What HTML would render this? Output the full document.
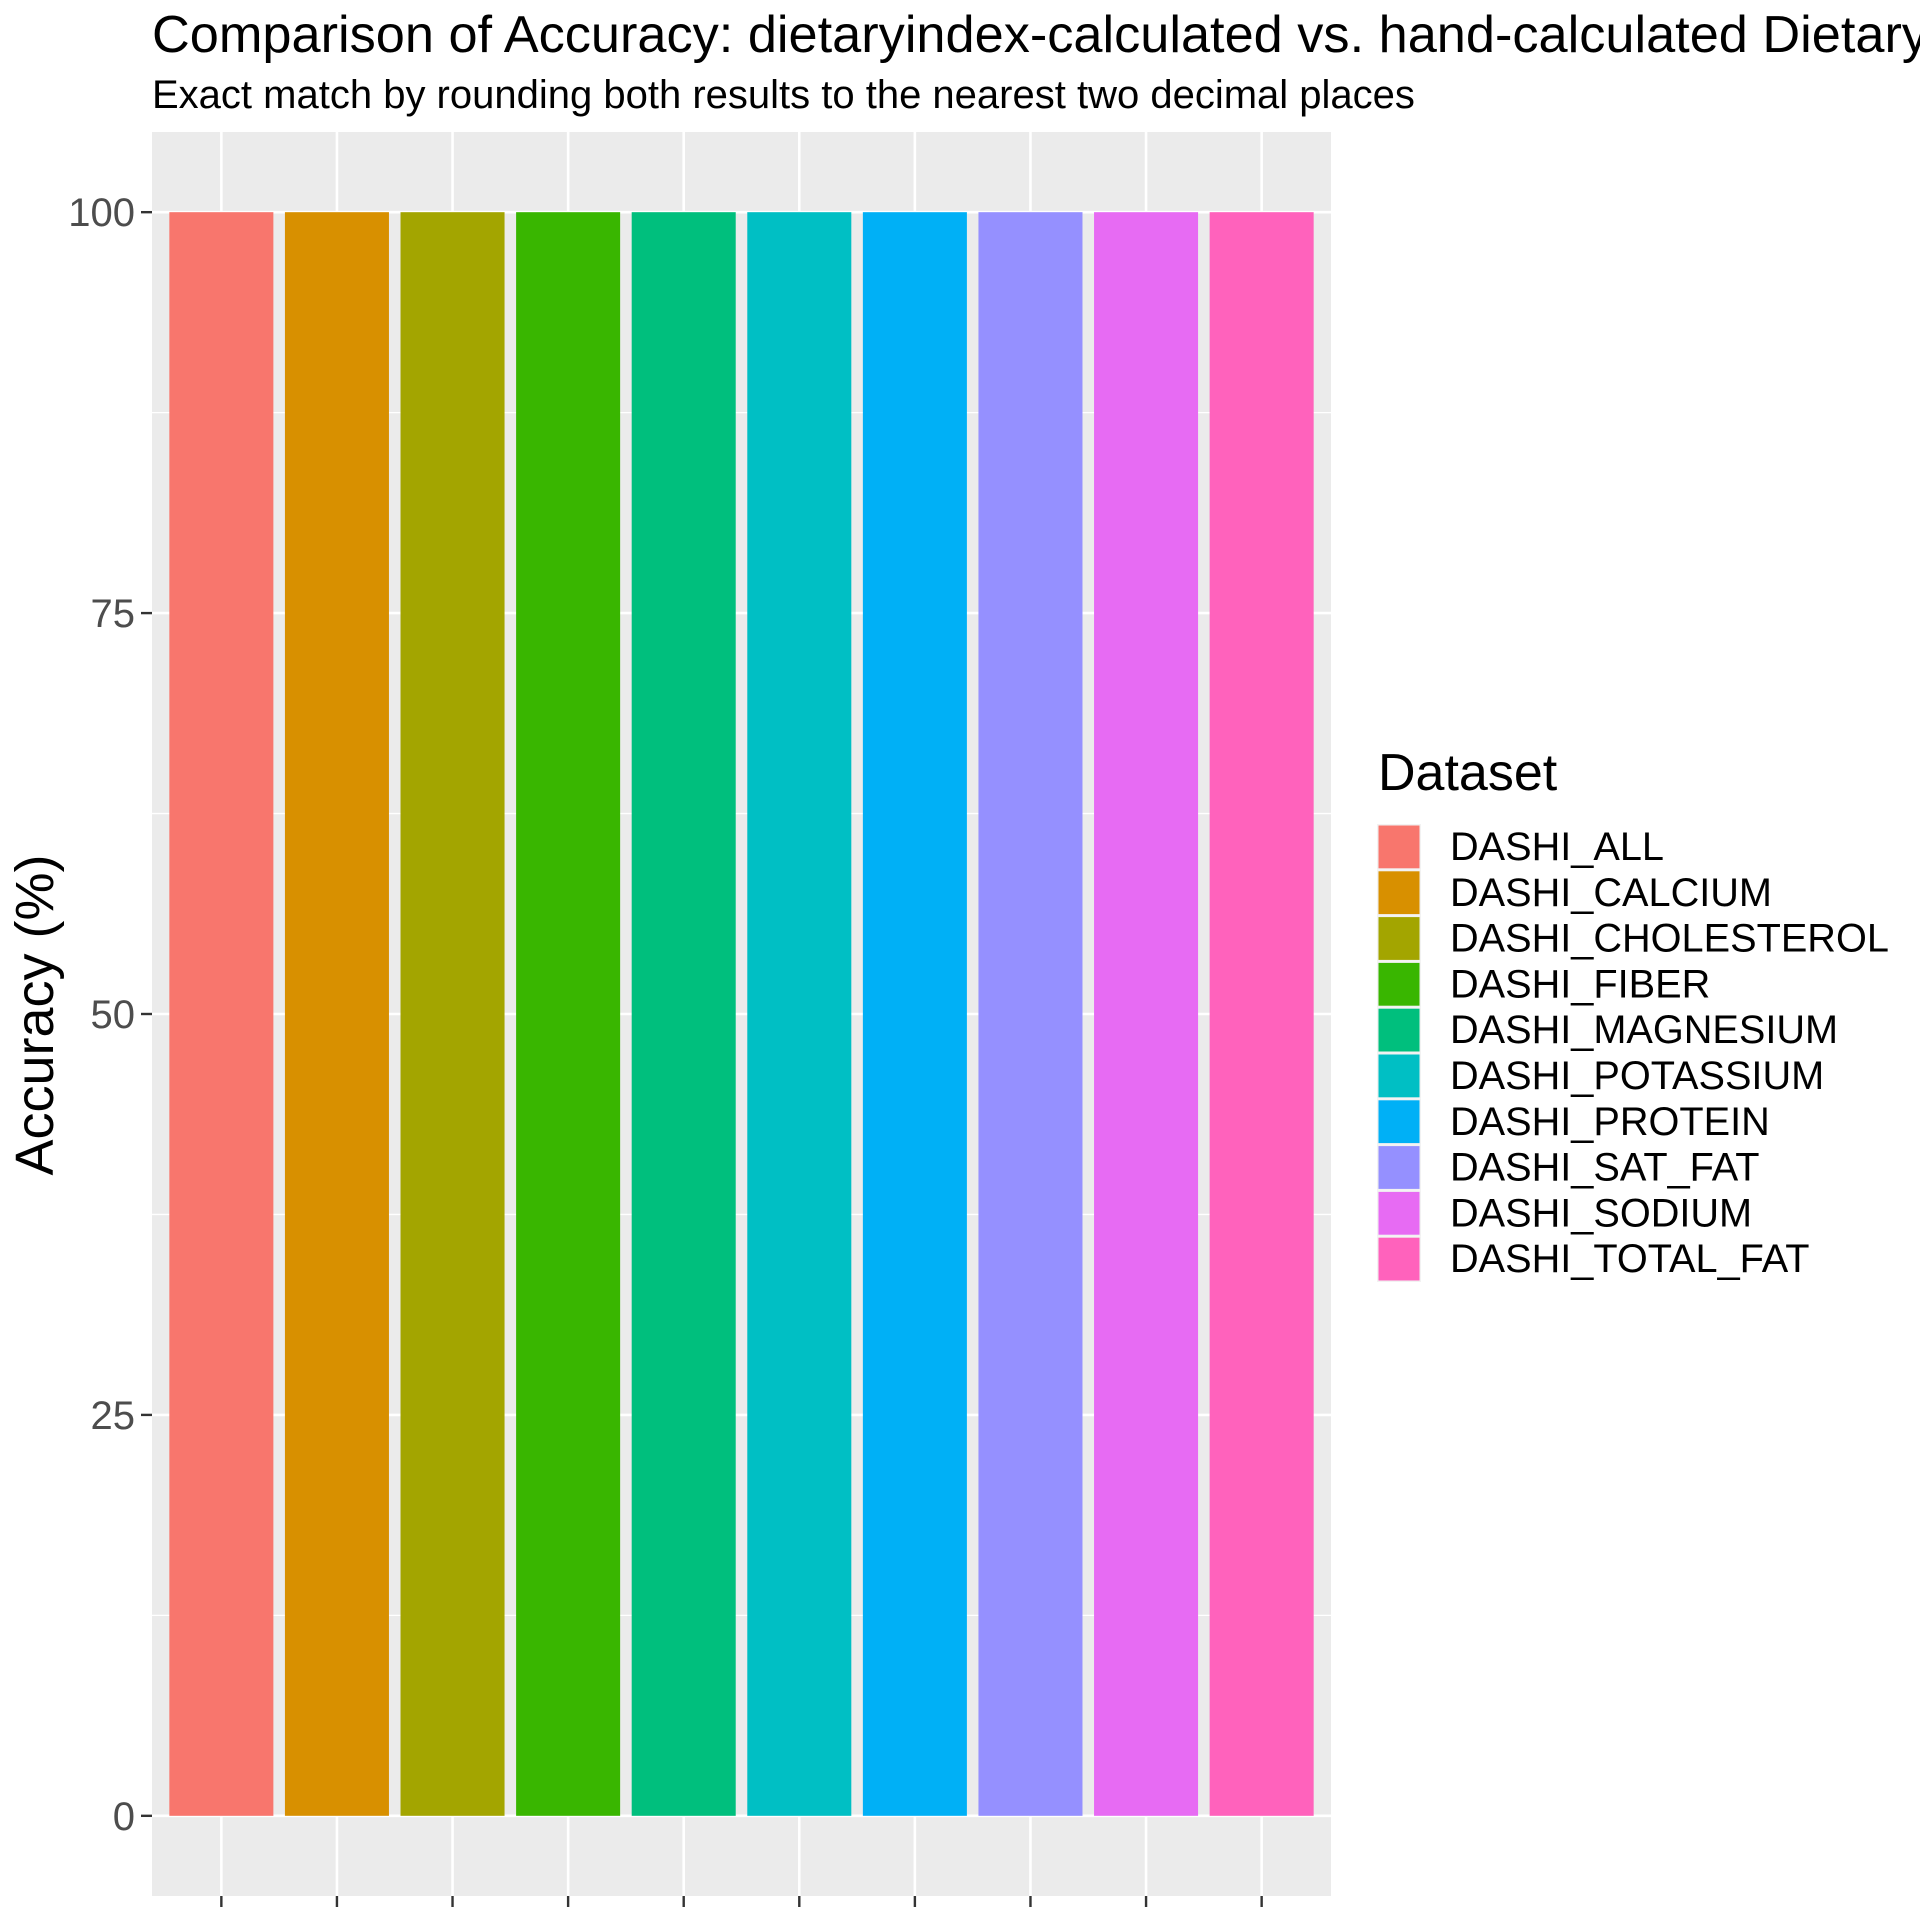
<!DOCTYPE html>
<html><head><meta charset="utf-8"><style>
html,body{margin:0;padding:0;background:#fff;}
svg{display:block;font-family:"Liberation Sans",Arial,sans-serif;}
</style></head><body>
<svg id="chart" width="1920" height="1920" viewBox="0 0 1920 1920">
<text x="152" y="52" font-size="52.3" fill="#000">Comparison of Accuracy: dietaryindex-calculated vs. hand-calculated Dietary Index</text>
<text x="152" y="108" font-size="40" fill="#000">Exact match by rounding both results to the nearest two decimal places</text>
<rect x="152" y="132" width="1179" height="1764" fill="#ebebeb"/>
<g id="grid"></g>
<g id="bars"></g>
<g id="yaxis"></g>
<g id="xaxis"></g>
<text transform="translate(53,1015) rotate(-90)" text-anchor="middle" font-size="54" fill="#000">Accuracy (%)</text>
<text x="1378" y="790" font-size="52" fill="#000">Dataset</text>
<g id="legend"></g>
</svg>
<script>
const categories = ["DASHI_ALL","DASHI_CALCIUM","DASHI_CHOLESTEROL","DASHI_FIBER","DASHI_MAGNESIUM","DASHI_POTASSIUM","DASHI_PROTEIN","DASHI_SAT_FAT","DASHI_SODIUM","DASHI_TOTAL_FAT"];
const accuracy = [100,100,100,100,100,100,100,100,100,100];
const colors = ["#F8766D","#D89000","#A3A500","#39B600","#00BF7D","#00BFC4","#00B0F6","#9590FF","#E76BF3","#FF62BC"];
const yTicks = [0,25,50,75,100];
const yMinor = [12.5,37.5,62.5,87.5];

const NS = "http://www.w3.org/2000/svg";
const PL = 152, PR = 1331, PT = 132, PB = 1896;
const yMin = -5, yMax = 105;
function yScale(v){ return PB - (v - yMin) / (yMax - yMin) * (PB - PT); }
const n = categories.length;
const unit = (PR - PL) / (n - 1 + 1.2);
function xScale(i){ return PL + (0.6 + i) * unit; }
function mk(tag, attrs, parent){
  const e = document.createElementNS(NS, tag);
  for (const k in attrs) e.setAttribute(k, attrs[k]);
  parent.appendChild(e);
  return e;
}
const grid = document.getElementById('grid');
yMinor.forEach(v => {
  const l = mk('line', {x1:PL, x2:PR, y1:yScale(v), y2:yScale(v), stroke:'#fff', 'stroke-width':1.3}, grid);
  
  
});
yTicks.forEach(v => {
  const l = mk('line', {x1:PL, x2:PR, y1:yScale(v), y2:yScale(v), stroke:'#fff', 'stroke-width':2.6}, grid);
  
  
});
categories.forEach((c, i) => {
  const l = mk('line', {x1:xScale(i), x2:xScale(i), y1:PT, y2:PB, stroke:'#fff', 'stroke-width':2.6}, grid);
  
  
});
const bars = document.getElementById('bars');
const bw = unit * 0.9;
categories.forEach((c, i) => {
  const y0 = yScale(0), y1 = yScale(accuracy[i]);
  const r = mk('rect', {x:xScale(i) - bw/2, y:Math.min(y0,y1), width:bw, height:Math.abs(y0-y1), fill:colors[i]}, bars);
  
  
});
const ya = document.getElementById('yaxis');
yTicks.forEach(v => {
  const t = mk('line', {x1:PL-11, x2:PL, y1:yScale(v), y2:yScale(v), stroke:'#333', 'stroke-width':2.4}, ya);
  
  
  const tx = mk('text', {x:PL-17, y:yScale(v)+14, 'text-anchor':'end', 'font-size':40, fill:'#4d4d4d'}, ya);
  tx.textContent = String(v);
  
  
});
const xa = document.getElementById('xaxis');
categories.forEach((c, i) => {
  const t = mk('line', {x1:xScale(i), x2:xScale(i), y1:PB, y2:PB+11, stroke:'#333', 'stroke-width':2.4}, xa);
  
  
});
const lg = document.getElementById('legend');
categories.forEach((c, i) => {
  const top = 824 + i * 45.8;
  const bg = mk('rect', {x:1377, y:top, width:44, height:45.8, fill:'#f2f2f2'}, lg);
  
  
  const k = mk('rect', {x:1378.5, y:top+1.5, width:41, height:42.8, fill:colors[i]}, lg);
  
  
  const tx = mk('text', {x:1450, y:top+36, 'font-size':39.7, fill:'#000'}, lg);
  tx.textContent = c;
  
  
});
</script>
</body></html>
